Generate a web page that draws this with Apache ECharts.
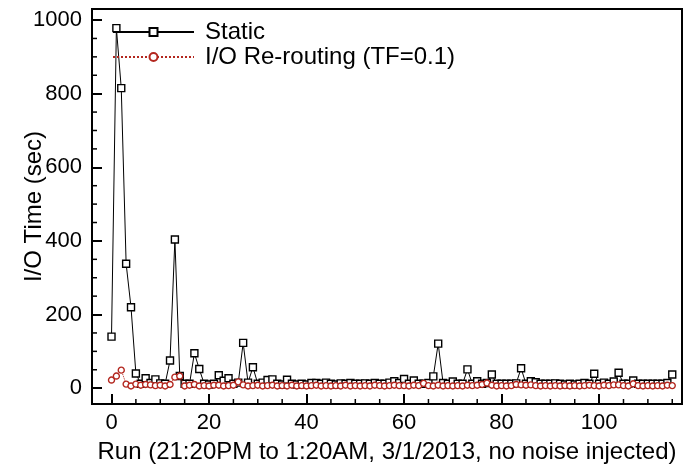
<!DOCTYPE html>
<html>
<head>
<meta charset="utf-8">
<script src="https://cdn.jsdelivr.net/npm/echarts@6/dist/echarts.min.js"></script>
<style>
  html, body { margin: 0; padding: 0; background: #fff; }
  #chart { width: 693px; height: 469px; }
</style>
</head>
<body>
<div id="chart"></div>
<script>
// run index 0..115
var runs = [];
for (var i = 0; i < 116; i++) runs.push(i);

var staticTime = [
  140, 978, 815, 338, 220, 40, 12, 27, 14, 24,
  13, 12, 75, 404, 33, 12, 12, 95, 52, 12,
  10, 12, 35, 20, 27, 12, 15, 123, 15, 57,
  12, 15, 22, 24, 12, 10, 23, 12, 10, 12,
  10, 14, 14, 12, 15, 12, 10, 13, 12, 14,
  12, 12, 13, 12, 14, 12, 12, 15, 19, 14,
  25, 12, 21, 12, 12, 14, 32, 121, 14, 12,
  18, 12, 12, 51, 12, 19, 12, 14, 37, 12,
  12, 12, 12, 13, 54, 12, 19, 16, 12, 12,
  12, 13, 12, 10, 12, 10, 12, 14, 12, 39,
  12, 15, 12, 18, 42, 12, 12, 21, 12, 12,
  12, 12, 12, 12, 14, 37
];

var rerouteTime = [
  22, 33, 49, 11, 6, 11, 8, 10, 9, 7,
  8, 6, 10, 30, 33, 6, 8, 10, 6, 7,
  6, 8, 8, 6, 7, 8, 17, 9, 6, 7,
  8, 6, 7, 8, 6, 7, 6, 8, 6, 7,
  6, 7, 8, 6, 7, 6, 7, 6, 8, 6,
  7, 6, 7, 6, 8, 7, 6, 7, 8, 7,
  7, 6, 8, 7, 13, 7, 6, 8, 6, 7,
  6, 7, 6, 8, 7, 8, 10, 14, 8, 6,
  7, 6, 7, 10, 9, 8, 9, 7, 6, 7,
  6, 7, 6, 7, 6, 7, 6, 7, 8, 7,
  6, 8, 7, 9, 9, 7, 6, 12, 7, 6,
  7, 6, 7, 6, 8, 7
];

var xMajor = [0, 20, 40, 60, 80, 100];
var xMinor = [5, 10, 15, 25, 30, 35, 45, 50, 55, 65, 70, 75, 85, 90, 95, 105, 110, 115];
var yMajor = [0, 200, 400, 600, 800, 1000];
var yMinor = [50, 100, 150, 250, 300, 350, 450, 500, 550, 650, 700, 750, 850, 900, 950];

var X_MIN = -4, X_MAX = 117, Y_MIN = -43, Y_MAX = 1030;

function pairs(ys) {
  return runs.map(function (x, k) { return [x, ys[k]]; });
}

var font = 'Liberation Sans, Arial, Helvetica, sans-serif';
var red = '#b3261e';
var plain = function (v) { return String(v); };

var chart = echarts.init(document.getElementById('chart'));
chart.setOption({
  animation: false,
  grid: {
    left: 92, right: 11, top: 9, bottom: 65,
    containLabel: false, outerBoundsMode: 'none',
    show: true, borderColor: '#000', borderWidth: 2
  },
  legend: {
    orient: 'vertical',
    left: 112, top: 20, padding: 0,
    itemWidth: 81, itemHeight: 10, itemGap: 1,
    textStyle: { fontFamily: font, fontSize: 24, color: '#000', padding: [0, 0, 0, 6] },
    data: ['Static', 'I/O Re-routing (TF=0.1)']
  },
  xAxis: {
    type: 'value', min: X_MIN, max: X_MAX,
    name: 'Run (21:20PM to 1:20AM, 3/1/2013, no noise injected)',
    nameLocation: 'middle', nameGap: 36, nameMoveOverlap: false,
    nameTextStyle: { fontFamily: font, fontSize: 24, color: '#000' },
    axisLine: { onZero: false, lineStyle: { color: '#000', width: 2 } },
    axisTick: { inside: true, length: 10, customValues: xMajor, lineStyle: { color: '#000', width: 2 } },
    axisLabel: { customValues: xMajor, formatter: plain, fontFamily: font, fontSize: 22, color: '#000', margin: 8 },
    splitLine: { show: false }
  },
  yAxis: {
    type: 'value', min: Y_MIN, max: Y_MAX,
    name: 'I/O Time (sec)',
    nameLocation: 'middle', nameGap: 46, nameMoveOverlap: false,
    nameTextStyle: { fontFamily: font, fontSize: 24, color: '#000' },
    axisLine: { onZero: false, lineStyle: { color: '#000', width: 2 } },
    axisTick: { inside: true, length: 10, customValues: yMajor, lineStyle: { color: '#000', width: 2 } },
    axisLabel: { customValues: yMajor, formatter: plain, fontFamily: font, fontSize: 22, color: '#000', margin: 10 },
    splitLine: { show: false }
  },
  series: [{
    name: 'Static',
    type: 'line',
    data: pairs(staticTime),
    symbol: 'rect', symbolSize: 7,
    lineStyle: { color: '#000', width: 1 },
    itemStyle: { color: '#fff', borderColor: '#000', borderWidth: 1.4 },
    z: 2
  }, {
    name: 'I/O Re-routing (TF=0.1)',
    type: 'line',
    data: pairs(rerouteTime),
    symbol: 'circle', symbolSize: 6,
    lineStyle: { color: red, width: 1, type: 'dotted' },
    itemStyle: { color: '#fff', borderColor: red, borderWidth: 1.4 },
    z: 3
  }]
});

// minor ticks: placed with the chart's own scales after layout
var tickMarks = [];
xMinor.forEach(function (v) {
  var p = chart.convertToPixel({ gridIndex: 0 }, [v, Y_MIN]);
  tickMarks.push({
    type: 'line', silent: true, z: 100,
    shape: { x1: p[0], y1: p[1], x2: p[0], y2: p[1] - 5 },
    style: { stroke: '#000', lineWidth: 1.5 }
  });
});
yMinor.forEach(function (v) {
  var p = chart.convertToPixel({ gridIndex: 0 }, [X_MIN, v]);
  tickMarks.push({
    type: 'line', silent: true, z: 100,
    shape: { x1: p[0], y1: p[1], x2: p[0] + 5, y2: p[1] },
    style: { stroke: '#000', lineWidth: 1.5 }
  });
});
chart.setOption({ graphic: tickMarks });
</script>
</body>
</html>
